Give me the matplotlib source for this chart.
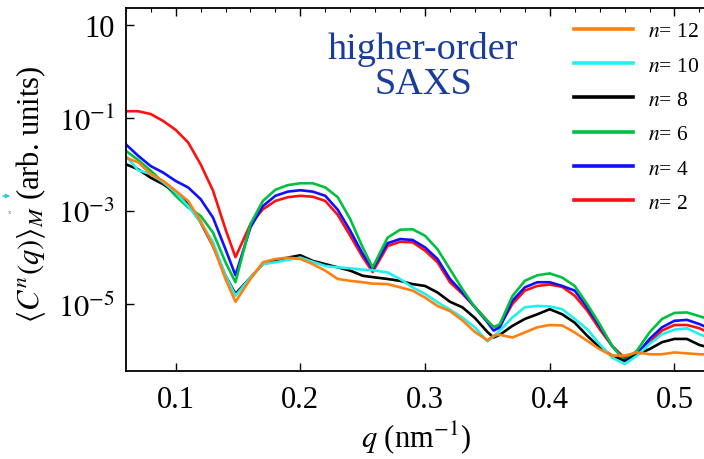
import numpy as np
import matplotlib
matplotlib.use("Agg")
import matplotlib.pyplot as plt
from matplotlib.ticker import MultipleLocator, NullLocator, FixedLocator

plt.rcParams['font.family'] = ['Liberation Serif', 'DejaVu Serif']
plt.rcParams['mathtext.fontset'] = 'stix'

# scattering vector q (nm^-1), shared by all curves
q = [0.06, 0.07, 0.08, 0.09, 0.10, 0.11, 0.12, 0.13, 0.14, 0.148,
     0.16, 0.17, 0.18, 0.19, 0.20, 0.21, 0.22, 0.23, 0.24, 0.25,
     0.258, 0.27, 0.28, 0.29, 0.30, 0.31, 0.32, 0.33, 0.34, 0.35,
     0.355, 0.36, 0.37, 0.38, 0.39, 0.40, 0.41, 0.42, 0.43, 0.44,
     0.45, 0.46, 0.47, 0.48, 0.49, 0.50, 0.51, 0.52, 0.53]

# log10 of <C^n(q)>_M
log_n2 = [-0.85, -0.85, -0.91, -1.06, -1.25, -1.52, -1.99, -2.56, -3.39, -3.99,
          -3.28, -2.96, -2.78, -2.70, -2.67, -2.69, -2.78, -3.08, -3.53, -3.99,
          -4.31, -3.75, -3.66, -3.67, -3.85, -4.10, -4.53, -4.78, -5.06, -5.36,
          -5.49, -5.47, -5.00, -4.71, -4.61, -4.58, -4.63, -4.82, -5.14, -5.54,
          -5.90, -6.16, -6.04, -5.82, -5.57, -5.45, -5.45, -5.52, -5.65]
log_n4 = [-1.56, -1.81, -2.03, -2.17, -2.35, -2.49, -2.74, -3.14, -3.82, -4.38,
          -3.35, -2.89, -2.67, -2.58, -2.55, -2.58, -2.67, -2.97, -3.42, -3.92,
          -4.25, -3.69, -3.60, -3.62, -3.78, -4.03, -4.46, -4.75, -5.07, -5.39,
          -5.57, -5.50, -4.93, -4.64, -4.53, -4.53, -4.61, -4.71, -5.07, -5.48,
          -5.90, -6.20, -6.08, -5.75, -5.50, -5.36, -5.34, -5.43, -5.55]
log_n6 = [-1.70, -1.90, -2.13, -2.38, -2.67, -2.92, -3.10, -3.46, -4.10, -4.53,
          -3.28, -2.78, -2.54, -2.44, -2.40, -2.40, -2.49, -2.70, -3.17, -3.78,
          -4.21, -3.57, -3.40, -3.39, -3.53, -3.82, -4.25, -4.68, -5.07, -5.36,
          -5.50, -5.43, -4.83, -4.50, -4.38, -4.34, -4.43, -4.61, -5.00, -5.43,
          -5.90, -6.22, -6.00, -5.61, -5.32, -5.19, -5.18, -5.26, -5.35]
log_n8 = [-1.99, -2.10, -2.28, -2.42, -2.60, -2.85, -3.24, -3.75, -4.39, -4.78,
          -4.43, -4.14, -4.07, -4.00, -3.95, -4.07, -4.14, -4.21, -4.28, -4.39,
          -4.42, -4.46, -4.50, -4.57, -4.61, -4.75, -4.95, -5.07, -5.30, -5.60,
          -5.72, -5.66, -5.47, -5.32, -5.22, -5.11, -5.22, -5.40, -5.68, -5.93,
          -6.11, -6.22, -6.08, -5.97, -5.82, -5.75, -5.75, -5.88, -5.95]
log_n10 = [-1.81, -2.12, -2.20, -2.38, -2.60, -2.89, -3.24, -3.67, -4.39, -4.82,
           -4.43, -4.14, -4.10, -4.05, -4.00, -4.09, -4.18, -4.21, -4.23, -4.26,
           -4.27, -4.32, -4.46, -4.64, -4.78, -4.96, -5.12, -5.29, -5.50, -5.80,
           -5.70, -5.57, -5.29, -5.07, -5.04, -5.05, -5.11, -5.32, -5.54, -5.86,
           -6.15, -6.29, -6.11, -5.86, -5.65, -5.55, -5.52, -5.65, -5.75]
log_n12 = [-1.85, -1.95, -2.20, -2.35, -2.56, -2.78, -3.21, -3.75, -4.46, -4.95,
           -4.46, -4.10, -4.03, -4.00, -4.03, -4.14, -4.28, -4.46, -4.50, -4.53,
           -4.56, -4.57, -4.64, -4.71, -4.86, -5.04, -5.15, -5.35, -5.60, -5.78,
           -5.68, -5.66, -5.72, -5.61, -5.50, -5.45, -5.46, -5.61, -5.79, -5.97,
           -6.11, -6.11, -6.04, -6.08, -6.08, -6.04, -6.06, -6.08, -6.08]

orders = [2, 4, 6, 8, 10, 12]
curves = [log_n2, log_n4, log_n6, log_n8, log_n10, log_n12]
colors = ['#ff1010', '#1010ff', '#00c040', '#000000', '#20f0f0', '#ff8010']

xticks = [0.1, 0.2, 0.3, 0.4, 0.5]
yticks = [10, 1e-1, 1e-3, 1e-5]
ytick_labels = ['10', r'$10^{-1}$', r'$10^{-3}$', r'$10^{-5}$']

fig = plt.figure(figsize=(7.04, 4.6), dpi=100)
# right end of the frame lies outside the picture, as in the source
ax = fig.add_axes([0.1786, 0.1913, 0.868, 0.789])

lines = []
for n, logv, c in zip(orders, curves, colors):
    ln, = ax.plot(q, 10.0 ** np.array(logv), color=c, lw=1.9, label=f'$n$= {n}')
    lines.append(ln)

ax.set_yscale('log')
ax.set_xlim(0.06, 0.55)
ax.set_ylim(10 ** -6.44, 10 ** 1.37)
ax.yaxis.set_major_locator(FixedLocator(yticks))
ax.set_yticklabels(ytick_labels)
ax.yaxis.set_minor_locator(NullLocator())
ax.set_xticks(xticks)
ax.set_xticklabels([f'{t:.1f}' for t in xticks])
ax.xaxis.set_minor_locator(MultipleLocator(0.02))

ax.tick_params(which='major', direction='in', length=6, width=1.0,
               top=True, bottom=True, left=True, right=False, labelsize=22)
ax.tick_params(axis='x', which='major', pad=10)
ax.tick_params(axis='y', which='major', pad=8)
ax.tick_params(which='minor', direction='in', length=3, width=0.8,
               top=True, bottom=False)
for s in ax.spines.values():
    s.set_linewidth(1.3)

ax.set_xlabel(r'$q$ (nm$^{-1}$)', fontsize=22)
ax.xaxis.set_label_coords((416 - 125.7) / 611.0, -0.13)
ax.set_ylabel(r'$\langle C^n(q)\rangle_M$ (arb. units)', fontsize=22)
ax.yaxis.set_label_coords(-0.128, 0.49)

ax.text((423 - 125.7) / 611.0, 0.84, 'higher-order\nSAXS', transform=ax.transAxes,
        ha='center', va='center', fontsize=27.5, color='#1a3c9c', linespacing=1.0)

leg = ax.legend(handles=lines[::-1], loc='upper left', frameon=False,
                bbox_to_anchor=(555 / 704, 1 - 3 / 460), bbox_transform=fig.transFigure,
                fontsize=15.5, handlelength=2.7, handletextpad=0.7, labelspacing=0.66)
for lh in leg.get_lines():
    lh.set_linewidth(2.6)

# stray arrow at the left edge of the crop
fig.add_artist(matplotlib.patches.FancyArrowPatch((0, 263), (13, 263), transform=None,
               arrowstyle='-|>', mutation_scale=6, color='#30c8e0', lw=1))
fig.text(8 / 704, 246 / 460, 'x', fontsize=5, color='#707070')

fig.savefig('out.png', dpi=100)
